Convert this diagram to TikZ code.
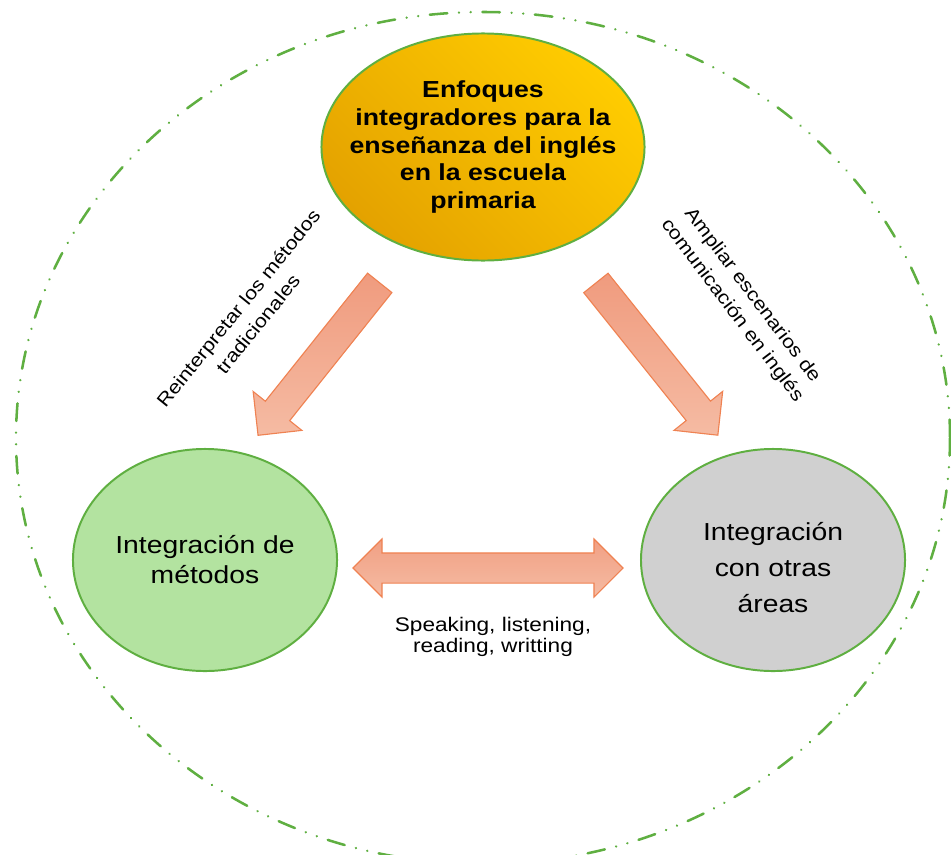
\documentclass[tikz,border=0pt]{standalone}
\usepackage{fontspec}
\setmainfont{Liberation Sans}[FakeStretch=1.15]
\usetikzlibrary{shapes.geometric,shapes.arrows}
\definecolor{verde}{RGB}{95,175,65}
\definecolor{verdeCla}{RGB}{179,227,160}
\definecolor{gris}{RGB}{208,208,208}
\definecolor{oroOsc}{RGB}{228,162,0}
\definecolor{oroCla}{RGB}{255,204,0}
\definecolor{naranja}{RGB}{239,130,82}
\definecolor{salmonOsc}{RGB}{240,155,126}
\definecolor{salmonCla}{RGB}{245,187,163}
\begin{document}
\begin{tikzpicture}[x=0.025cm, y=-0.025cm,
    circulo/.style={ellipse, draw=verde, line width=1.4pt, inner sep=0pt, align=center,
      font=\fontsize{17.5}{21.3}\selectfont},
    flecha/.style={single arrow, draw=naranja, line width=0.8pt, inner xsep=0pt,
      inner ysep=0.375cm, single arrow head extend=0.39cm, minimum height=4.875cm,
      top color=salmonOsc, bottom color=salmonCla},
    etiqueta/.style={align=center, font=\fontsize{13.3}{18}\selectfont}]
  \useasboundingbox (0,0) rectangle (951,854);

  % marco exterior
  \draw[verde, line width=1.8pt, line cap=round,
    dash pattern=on 12.5pt off 8.3pt on 0.01pt off 8.3pt on 0.01pt off 8.3pt]
    (483,438) ellipse [x radius=467, y radius=426];

  % elipses
  \node[circulo, inner xsep=-30pt, minimum width=8.075cm, minimum height=5.675cm,
    left color=oroOsc, right color=oroCla, shading angle=135,
    font=\fontsize{16.5}{19.6}\selectfont\bfseries] (enfoques) at (483,147)
    {Enfoques\\integradores para la\\enseñanza del inglés\\en la escuela\\primaria};
  \node[circulo, fill=verdeCla, minimum width=6.6cm, minimum height=5.55cm]
    (metodos) at (205,560) {Integración de\\métodos};
  \node[circulo, fill=gris, minimum width=6.6cm, minimum height=5.55cm,
    font=\fontsize{17.5}{25.5}\selectfont] (areas) at (773,560)
    {\rule{0pt}{24pt}Integración\\con otras\\áreas};

  % flechas
  \node[flecha, rotate=231.4] (flechaIzq) at (323.75,353) {};
  \node[flecha, rotate=-51.3] (flechaDer) at (652,353) {};
  \node[double arrow, draw=naranja, line width=0.8pt, inner xsep=0pt,
    inner ysep=0.3625cm, double arrow head extend=0.35cm, minimum height=6.75cm,
    top color=salmonOsc!85!salmonCla, bottom color=salmonCla] (flechaDoble) at (488,568) {};

  % etiquetas
  \node[etiqueta, rotate=51] (etqIzq) at (248,316) {Reinterpretar los métodos\\tradicionales};
  \node[etiqueta, rotate=-53] (etqDer) at (742,303) {Ampliar escenarios de\\comunicación en inglés};
  \node[etiqueta, font=\fontsize{14}{15}\selectfont] (etqHab) at (493,637)
    {Speaking, listening,\\reading, writting};
\end{tikzpicture}
\end{document}
